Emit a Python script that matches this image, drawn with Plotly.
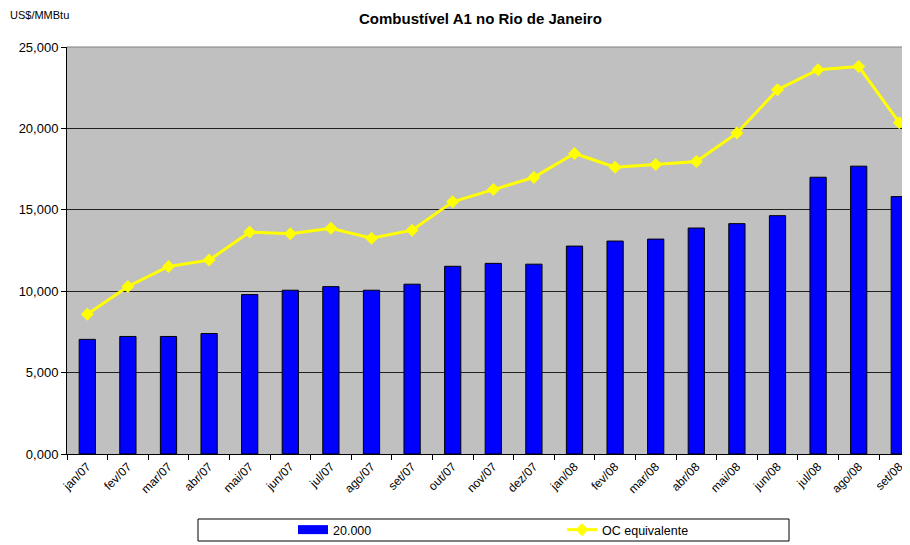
import plotly.graph_objects as go

# ---- data ----
categories = ["jan/07", "fev/07", "mar/07", "abr/07", "mai/07", "jun/07", "jul/07",
              "ago/07", "set/07", "out/07", "nov/07", "dez/07", "jan/08", "fev/08",
              "mar/08", "abr/08", "mai/08", "jun/08", "jul/08", "ago/08", "set/08"]
bar_values = [7040, 7220, 7220, 7400, 9790, 10060, 10280, 10060, 10430, 11530, 11710,
              11660, 12770, 13080, 13200, 13880, 14150, 14640, 17000, 17680, 15810]
line_values = [8590, 10290, 11520, 11910, 13630, 13530, 13870, 13260, 13750, 15490, 16240,
               16990, 18460, 17620, 17780, 17970, 19710, 22380, 23610, 23800, 20350]
bar_name = "20.000"
line_name = "OC equivalente"
y_tickvals = [0, 5000, 10000, 15000, 20000, 25000]
y_ticktext = ["0,000", "5,000", "10,000", "15,000", "20,000", "25,000"]
title_text = "Combustível A1 no Rio de Janeiro"
unit_text = "US$/MMBtu"

# ---- layout geometry (window pixels; page body has an 8px margin) ----
OFF = 8
WIN_W, WIN_H = 910, 545
W, H = WIN_W - OFF, WIN_H - OFF
PLOT_L, PLOT_T, PLOT_B = 67, 47, 454          # plot area edges in window pixels
L, T = PLOT_L - OFF, PLOT_T - OFF
B = WIN_H - PLOT_B
R = 0
PW, PH = W - L - R, H - T - B

def px_x(px):
    return (px - PLOT_L) / PW

def px_y(py):
    return (PLOT_B - py) / PH

FONT = "Liberation Sans, Arial, sans-serif"

fig = go.Figure()
fig.add_trace(go.Bar(
    x=categories, y=bar_values, name=bar_name,
    marker=dict(color="#0000FF", line=dict(color="#000000", width=1)),
    width=0.4, showlegend=False,
))
# legend entry for the bars (wide rectangle swatch like the original)
fig.add_trace(go.Scatter(
    x=[None], y=[None], name=bar_name, mode="lines",
    line=dict(color="#0000FF", width=9), legend="legend",
))
fig.add_trace(go.Scatter(
    x=categories, y=line_values, name=line_name, mode="lines+markers",
    line=dict(color="#FFFF00", width=3),
    marker=dict(symbol="diamond", size=10, color="#FFFF00"),
    legend="legend2",
))

fig.update_layout(
    width=W, height=H,
    margin=dict(l=L, r=R, t=T, b=B, pad=0),
    paper_bgcolor="white", plot_bgcolor="#C0C0C0",
    font=dict(family=FONT, size=12, color="black"),
    showlegend=True,
    legend=dict(orientation="h", x=px_x(293), y=px_y(530), xanchor="left", yanchor="middle",
                bgcolor="rgba(0,0,0,0)", borderwidth=0, font=dict(size=12.5)),
    legend2=dict(orientation="h", x=px_x(562), y=px_y(530), xanchor="left", yanchor="middle",
                 bgcolor="rgba(0,0,0,0)", borderwidth=0, font=dict(size=12.5)),
    xaxis=dict(type="category", range=[-0.5, -0.5 + PW / 40.6], tickson="boundaries",
               ticks="outside", ticklen=5, tickcolor="black", tickangle=-45,
               showline=True, linecolor="black", linewidth=1, showgrid=False,
               tickfont=dict(size=12), fixedrange=True),
    yaxis=dict(range=[0, 25000], tickvals=y_tickvals, ticktext=y_ticktext,
               ticks="outside", ticklen=5, tickcolor="black",
               showline=True, linecolor="black", linewidth=1,
               showgrid=True, gridcolor="#202020", gridwidth=1, zeroline=False,
               tickfont=dict(size=13)),
    bargap=0.6,
)

shapes = [
    # top border of plot area
    dict(type="line", xref="paper", yref="paper", x0=0, x1=1, y0=1, y1=1,
         line=dict(color="#808080", width=1)),
    # legend box
    dict(type="rect", xref="paper", yref="paper",
         x0=px_x(198), x1=px_x(789), y0=px_y(541), y1=px_y(519),
         line=dict(color="#000000", width=1), fillcolor="rgba(0,0,0,0)"),
]
fig.update_layout(shapes=shapes)

fig.add_annotation(text="<b>" + title_text + "</b>", xref="paper", yref="paper",
                   x=px_x(480), y=px_y(18), xanchor="center", yanchor="middle",
                   showarrow=False, font=dict(size=15))
fig.add_annotation(text=unit_text, xref="paper", yref="paper",
                   x=px_x(8), y=px_y(15), xanchor="left", yanchor="middle",
                   showarrow=False, font=dict(size=11))

fig.write_html("out.html")
